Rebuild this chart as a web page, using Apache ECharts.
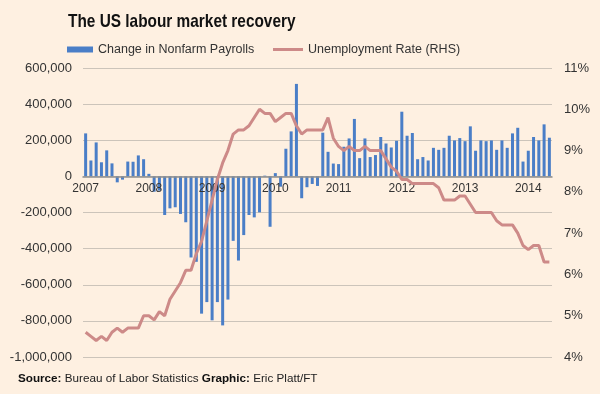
<!DOCTYPE html>
<html><head><meta charset="utf-8">
<script src="https://cdn.jsdelivr.net/npm/echarts@6/dist/echarts.min.js"></script>
<style>html,body{margin:0;padding:0;background:#FEF0E1;}#c{width:600px;height:394px;}</style>
</head><body><div id="c"></div>
<script>
// Year tick labels
const years = ['2007','2008','2009','2010','2011','2012','2013','2014'];
const monthsIn2014 = 5;

// Change in nonfarm payrolls (jobs), monthly
const payrolls = [
  // 2007
  238000, 88000, 188000, 78000, 144000, 72000, -33000, -18000, 82000, 81000, 116000, 95000,
  // 2008
  14000, -85000, -79000, -214000, -177000, -171000, -208000, -254000, -449000, -473000, -760000, -696000,
  // 2009
  -797000, -696000, -825000, -682000, -357000, -466000, -325000, -214000, -227000, -199000, 4000, -279000,
  // 2010
  18000, -57000, 153000, 249000, 512000, -121000, -60000, -42000, -53000, 242000, 136000, 71000,
  // 2011
  68000, 164000, 210000, 318000, 101000, 210000, 107000, 118000, 218000, 182000, 160000, 197000,
  // 2012
  358000, 225000, 240000, 95000, 107000, 88000, 158000, 147000, 158000, 225000, 199000, 212000,
  // 2013
  195000, 277000, 142000, 199000, 195000, 199000, 147000, 199000, 158000, 238000, 269000, 82000,
  // 2014
  142000, 218000, 199000, 288000, 214000
];

// Unemployment rate (%), monthly
const unemployment = [
  // 2007
  4.6, 4.5, 4.4, 4.5, 4.4, 4.6, 4.7, 4.6, 4.7, 4.7, 4.7, 5.0,
  // 2008
  5.0, 4.9, 5.1, 5.0, 5.4, 5.6, 5.8, 6.1, 6.1, 6.5, 6.8, 7.3,
  // 2009
  7.8, 8.3, 8.7, 9.0, 9.4, 9.5, 9.5, 9.6, 9.8, 10.0, 9.9, 9.9,
  // 2010
  9.7, 9.8, 9.9, 9.9, 9.6, 9.4, 9.5, 9.5, 9.5, 9.5, 9.8, 9.3,
  // 2011
  9.1, 9.0, 9.1, 9.0, 9.0, 9.1, 9.0, 9.0, 9.0, 8.8, 8.6, 8.5,
  // 2012
  8.3, 8.3, 8.2, 8.2, 8.2, 8.2, 8.2, 8.1, 7.8, 7.8, 7.8, 7.9,
  // 2013
  7.9, 7.7, 7.5, 7.5, 7.5, 7.5, 7.3, 7.2, 7.2, 7.2, 7.0, 6.7,
  // 2014
  6.6, 6.7, 6.7, 6.3, 6.3
];

const leftMin = -1000000, leftMax = 600000, leftStep = 200000;
const rightMin = 4, rightMax = 11, rightStep = 1;

const categories = [];
years.forEach(function (y, yi) {
  const n = (yi === years.length - 1) ? monthsIn2014 : 12;
  for (let m = 1; m <= n; m++) categories.push(y + '-' + (m < 10 ? '0' + m : m));
});

const FONT = '"Liberation Sans", Arial, sans-serif';
const isJan = function (idx) { return idx % 12 === 0; };

// grid geometry (layout only)
const W = 600, H = 394;
const gTop = 68, gBottom = 37, gLeft = 83, gRight = 48;
const gHeight = H - gTop - gBottom;
// move x axis from grid bottom up to the zero line of the left axis
const zeroOffset = -gHeight * (0 - leftMin) / (leftMax - leftMin);

const chart = echarts.init(document.getElementById('c'), null, {renderer: 'canvas'});
chart.setOption({
  animation: false,
  backgroundColor: '#FEF0E1',
  textStyle: {fontFamily: FONT},
  graphic: [
    {type: 'text', left: 68, top: 12, scaleX: 0.81, style: {text: 'The US labour market recovery', font: 'bold 19px "Liberation Sans", Arial, sans-serif', fill: '#111'}},
    {type: 'text', left: 18, top: 373, style: {
      text: '{b|Source:} Bureau of Labor Statistics {b|Graphic:} Eric Platt/FT',
      fontSize: 11.7, fontFamily: FONT, fill: '#222',
      rich: {b: {fontWeight: 'bold', fontSize: 11.7, fontFamily: FONT, fill: '#111'}}
    }}
  ],
  legend: [
    {data: ['Change in Nonfarm Payrolls'], left: 67, top: 43, padding: 0, icon: 'rect', itemWidth: 26, itemHeight: 6,
     textStyle: {fontSize: 12.5, color: '#333', fontFamily: FONT}},
    {data: ['Unemployment Rate (RHS)'], left: 273, top: 43, padding: 0, icon: 'rect', itemWidth: 30, itemHeight: 3,
     textStyle: {fontSize: 12.5, color: '#333', fontFamily: FONT}}
  ],
  grid: {left: gLeft, right: gRight, top: gTop, bottom: gBottom, containLabel: false},
  xAxis: {
    type: 'category', data: categories, boundaryGap: true, z: 3,
    position: 'bottom', offset: zeroOffset,
    axisLine: {onZero: false, lineStyle: {color: '#8E8E8E', width: 1.5}},
    axisTick: {interval: isJan, length: 4, lineStyle: {color: '#8E8E8E', width: 1.5}},
    axisLabel: {interval: isJan, margin: 6, fontSize: 12, color: '#333', fontFamily: FONT,
      formatter: function (v) { return v.slice(0, 4); }},
    splitLine: {show: false}
  },
  yAxis: [
    {type: 'value', min: leftMin, max: leftMax, interval: leftStep,
     axisLine: {show: false}, axisTick: {show: false},
     axisLabel: {margin: 11, fontSize: 13, color: '#333', fontFamily: FONT,
       formatter: function (v) { return v.toLocaleString('en-US'); }},
     splitLine: {lineStyle: {color: '#CCC4BA', width: 1}}},
    {type: 'value', min: rightMin, max: rightMax, interval: rightStep, position: 'right',
     axisLine: {show: false}, axisTick: {show: false},
     axisLabel: {margin: 12, fontSize: 13, color: '#333', fontFamily: FONT, formatter: '{value}%'},
     splitLine: {show: false}}
  ],
  series: [
    {name: 'Change in Nonfarm Payrolls', type: 'bar', data: payrolls, yAxisIndex: 0, barWidth: 3,
     itemStyle: {color: '#4A7EC7'}, z: 2},
    {name: 'Unemployment Rate (RHS)', type: 'line', data: unemployment, yAxisIndex: 1, symbol: 'none',
     color: '#CD8A88', lineStyle: {color: '#CD8A88', width: 3}, itemStyle: {color: '#CD8A88'}, z: 4}
  ]
});
</script></body></html>
